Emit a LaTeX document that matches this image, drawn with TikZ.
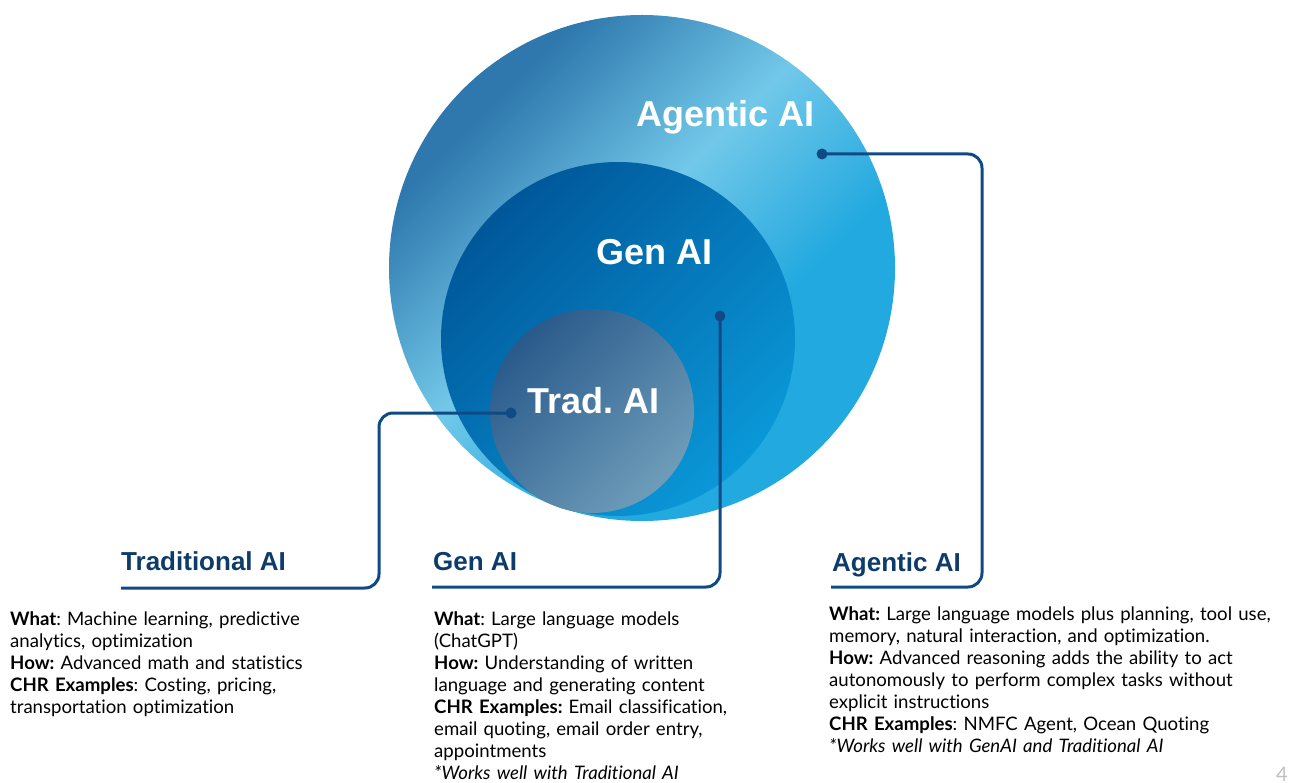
\documentclass[tikz,border=0pt]{standalone}
\usepackage{fontspec}
\setmainfont{Lato}[Ligatures=NoCommon]
\newfontfamily\arialfont{Liberation Sans}

\definecolor{agenticdark}{HTML}{2E78AD}
\definecolor{agenticlight}{HTML}{72C8E9}
\definecolor{agenticcyan}{HTML}{22A9DF}
\definecolor{gendark}{HTML}{00579A}
\definecolor{genlight}{HTML}{0A98D8}
\definecolor{traddark}{HTML}{295A8B}
\definecolor{tradlight}{HTML}{6E9DB9}
\definecolor{linkblue}{HTML}{0F4A84}
\definecolor{headblue}{HTML}{0D3B6A}

\pgfdeclareverticalshading{agenticshade}{100bp}{color(0bp)=(agenticcyan); color(38bp)=(agenticcyan);
  color(54bp)=(agenticlight); color(72bp)=(agenticdark); color(100bp)=(agenticdark)}

\tikzset{
  ball/.style={circle, inner sep=0pt, minimum size=#1},
  balltext/.style={font=\arialfont\bfseries\fontsize{36}{40}\selectfont, text=white, anchor=base west, inner sep=0pt},
  heading/.style={font=\arialfont\bfseries\fontsize{26}{30}\selectfont, text=headblue, anchor=base west, inner sep=0pt},
  body/.style={font=\fontsize{18.6}{22}\selectfont, anchor=base west, inner sep=0pt, text width=470pt, align=left},
  link/.style={draw=linkblue, line width=3pt, rounded corners=14pt},
  pin/.style={circle, fill=linkblue, inner sep=0pt, minimum size=11pt},
}

\begin{document}
\frenchspacing
\begin{tikzpicture}[x=1pt, y=-1pt]
    \useasboundingbox (0,0) rectangle (1295,783);

    % nested circles
    \node [ball=506pt, shading=agenticshade, shading angle=45] (agenticball) at (642,268) {};
    \node [ball=354pt, top color=gendark, bottom color=genlight, shading angle=45] (genball) at (618,339) {};
    \node [ball=204pt, top color=traddark, bottom color=tradlight, shading angle=45] (tradball) at (592,411) {};

    \node [balltext] (agenticname) at (636,127) {Agentic AI};
    \node [balltext] (genname) at (596,265) {Gen AI};
    \node [balltext] (tradname) at (527,413) {Trad. AI};

    % pins and leader lines
    \node [pin] (agenticpin) at (822,154) {};
    \node [pin] (genpin) at (720,316) {};
    \node [pin] (tradpin) at (511,413) {};
    \coordinate (tradbend) at (379,588);
    \coordinate (tradend) at (121,588);
    \coordinate (genend) at (432,587);
    \coordinate (agenticbend) at (982,587);
    \coordinate (agenticend) at (831,587);
    \draw [link] (tradpin.center) -| (tradbend) -- (tradend);
    \draw [link] (genpin.center) |- (genend);
    \draw [link] (agenticpin.center) -| (agenticbend) -- (agenticend);

    % headings
    \node [heading] (tradhead) at (121,570) {Traditional AI};
    \node [heading] (genhead) at (433,570) {Gen AI};
    \node [heading] (agentichead) at (832,571) {Agentic AI};

    % descriptions
    \node [body] (tradtext) at (10,625) {\textbf{What}: Machine learning, predictive\\
        analytics, optimization\\
        \textbf{How:} Advanced math and statistics\\
        \textbf{CHR Examples}: Costing, pricing,\\
        transportation optimization};
    \node [body] (gentext) at (434,625) {\textbf{What}: Large language models\\
        (ChatGPT)\\
        \textbf{How:} Understanding of written\\
        language and generating content\\
        \textbf{CHR Examples:} Email classification,\\
        email quoting, email order entry,\\
        appointments\\
        \textit{*Works well with Traditional AI}};
    \node [body] (agentictext) at (829,620) {\textbf{What:} Large language models plus planning, tool use,\\
        memory, natural interaction, and optimization.\\
        \textbf{How:} Advanced reasoning adds the ability to act\\
        autonomously to perform complex tasks without\\
        explicit instructions\\
        \textbf{CHR Examples}: NMFC Agent, Ocean Quoting\\
        \textit{*Works well with GenAI and Traditional AI}};

    \node [font=\fontsize{20}{22}\selectfont, text=black!25, anchor=base west, inner sep=0pt] (pagenum) at (1276,781) {4};
\end{tikzpicture}
\end{document}
